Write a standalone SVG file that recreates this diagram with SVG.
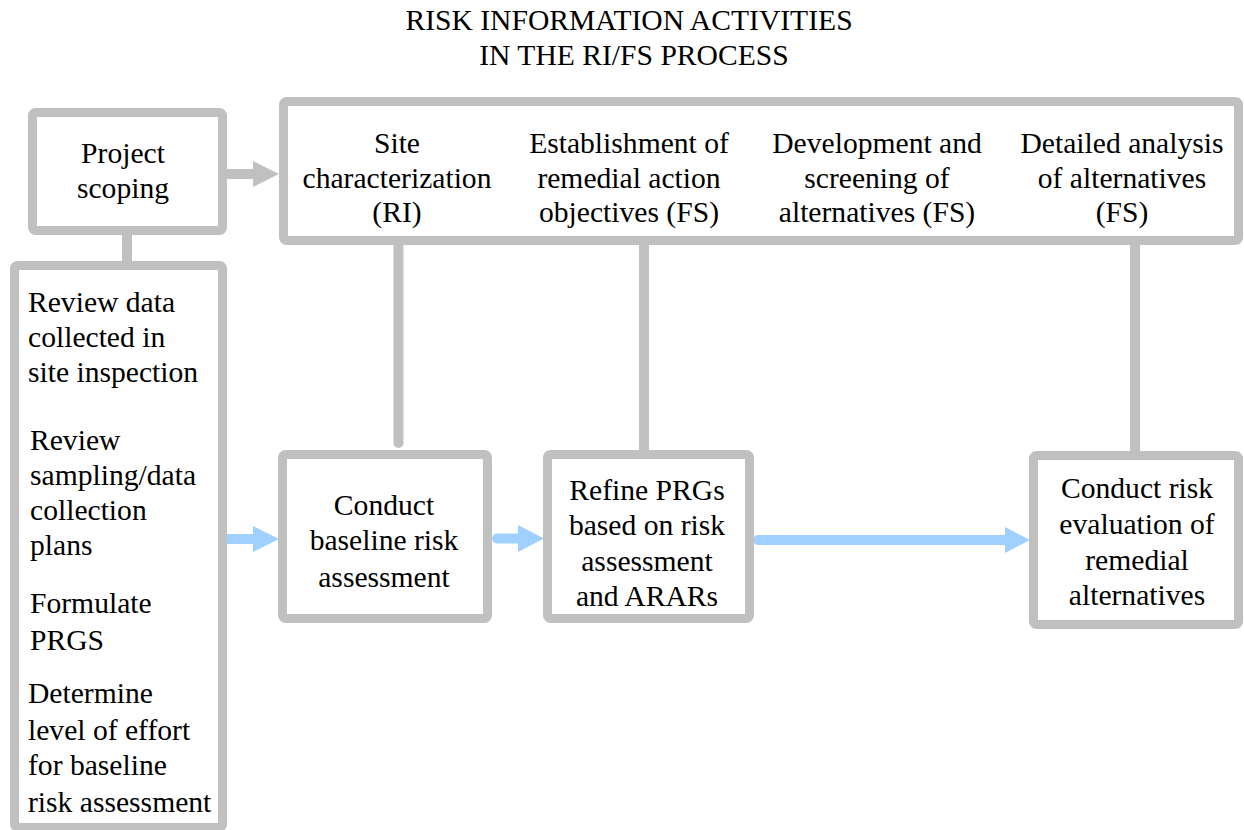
<svg xmlns="http://www.w3.org/2000/svg" width="1244" height="830" viewBox="0 0 1244 830">
  <style>
    .box { fill: #ffffff; stroke: #c0c0c0; stroke-width: 9; }
    .lbl { font-family: "Liberation Serif", "Times New Roman", serif; font-size: 29.6px; fill: #000000; }
    .mid { text-anchor: middle; }
    .title { font-family: "Liberation Serif", "Times New Roman", serif; font-size: 29.6px; fill: #000000; text-anchor: middle; }
    .gline { stroke: #c0c0c0; stroke-width: 10; fill: none; }
    .bline { stroke: #a0d0ff; stroke-width: 10; fill: none; stroke-linecap: round; }
    .ghead { fill: #c0c0c0; }
    .bhead { fill: #a0d0ff; }
  </style>

  <rect width="1244" height="830" fill="#ffffff"/>

  <!-- heading -->
  <g id="title">
    <text class="title" x="629" y="30">RISK INFORMATION ACTIVITIES</text>
    <text class="title" x="634" y="65">IN THE RI/FS PROCESS</text>
  </g>

  <!-- connectors -->
  <g id="connectors">
    <line class="gline" x1="227" y1="174" x2="256" y2="174"/>
    <polygon class="ghead" points="253,161 279,174 253,187"/>
    <line class="gline" x1="127" y1="235" x2="127" y2="262"/>
    <line class="gline" x1="398.5" y1="245" x2="398.5" y2="443" stroke-linecap="round"/>
    <line class="gline" x1="644" y1="245" x2="644" y2="451"/>
    <line class="gline" x1="1135" y1="245" x2="1135" y2="452"/>

    <line class="bline" x1="228" y1="539" x2="255" y2="539"/>
    <polygon class="bhead" points="253,526 279,539 253,552"/>
    <line class="bline" x1="497" y1="538.5" x2="520" y2="538.5"/>
    <polygon class="bhead" points="518,525 544,538.5 518,552"/>
    <line class="bline" x1="758" y1="540" x2="1008" y2="540"/>
    <polygon class="bhead" points="1005,527 1030,540 1005,553"/>
  </g>

  <g id="project-scoping">
    <rect class="box" x="32.5" y="112.5" width="190" height="118" rx="3"/>
    <text class="lbl mid" x="123" y="163">Project</text>
    <text class="lbl mid" x="123" y="198">scoping</text>
  </g>

  <g id="rifs-phases">
    <rect class="box" x="283.5" y="101.5" width="955" height="139" rx="3"/>
    <text class="lbl mid" x="397" y="153">Site</text>
    <text class="lbl mid" x="397" y="188">characterization</text>
    <text class="lbl mid" x="397" y="222">(RI)</text>
    <text class="lbl mid" x="629" y="153">Establishment of</text>
    <text class="lbl mid" x="629" y="188">remedial action</text>
    <text class="lbl mid" x="629" y="222">objectives (FS)</text>
    <text class="lbl mid" x="877" y="153">Development and</text>
    <text class="lbl mid" x="877" y="188">screening of</text>
    <text class="lbl mid" x="877" y="222">alternatives (FS)</text>
    <text class="lbl mid" x="1122" y="153">Detailed analysis</text>
    <text class="lbl mid" x="1122" y="188">of alternatives</text>
    <text class="lbl mid" x="1122" y="222">(FS)</text>
  </g>

  <g id="scoping-tasks">
    <rect class="box" x="14.5" y="265.5" width="208" height="562" rx="3"/>
    <text class="lbl" x="28" y="312">Review data</text>
    <text class="lbl" x="28" y="347">collected in</text>
    <text class="lbl" x="28" y="382">site inspection</text>
    <text class="lbl" x="30" y="450">Review</text>
    <text class="lbl" x="30" y="485">sampling/data</text>
    <text class="lbl" x="30" y="520">collection</text>
    <text class="lbl" x="30" y="555">plans</text>
    <text class="lbl" x="30" y="613">Formulate</text>
    <text class="lbl" x="30" y="650">PRGS</text>
    <text class="lbl" x="28" y="703">Determine</text>
    <text class="lbl" x="28" y="740">level of effort</text>
    <text class="lbl" x="28" y="775">for baseline</text>
    <text class="lbl" x="28" y="812">risk assessment</text>
  </g>

  <g id="baseline-risk">
    <rect class="box" x="282.5" y="454.5" width="205" height="164" rx="3"/>
    <text class="lbl mid" x="384" y="515">Conduct</text>
    <text class="lbl mid" x="384" y="550">baseline risk</text>
    <text class="lbl mid" x="384" y="587">assessment</text>
  </g>

  <g id="refine-prgs">
    <rect class="box" x="547.5" y="454.5" width="202" height="164" rx="3"/>
    <text class="lbl mid" x="647" y="500">Refine PRGs</text>
    <text class="lbl mid" x="647" y="535">based on risk</text>
    <text class="lbl mid" x="647" y="571">assessment</text>
    <text class="lbl mid" x="647" y="606">and ARARs</text>
  </g>

  <g id="risk-evaluation">
    <rect class="box" x="1033.5" y="455.5" width="205" height="169" rx="3"/>
    <text class="lbl mid" x="1137" y="498">Conduct risk</text>
    <text class="lbl mid" x="1137" y="534">evaluation of</text>
    <text class="lbl mid" x="1137" y="570">remedial</text>
    <text class="lbl mid" x="1137" y="605">alternatives</text>
  </g>
</svg>
